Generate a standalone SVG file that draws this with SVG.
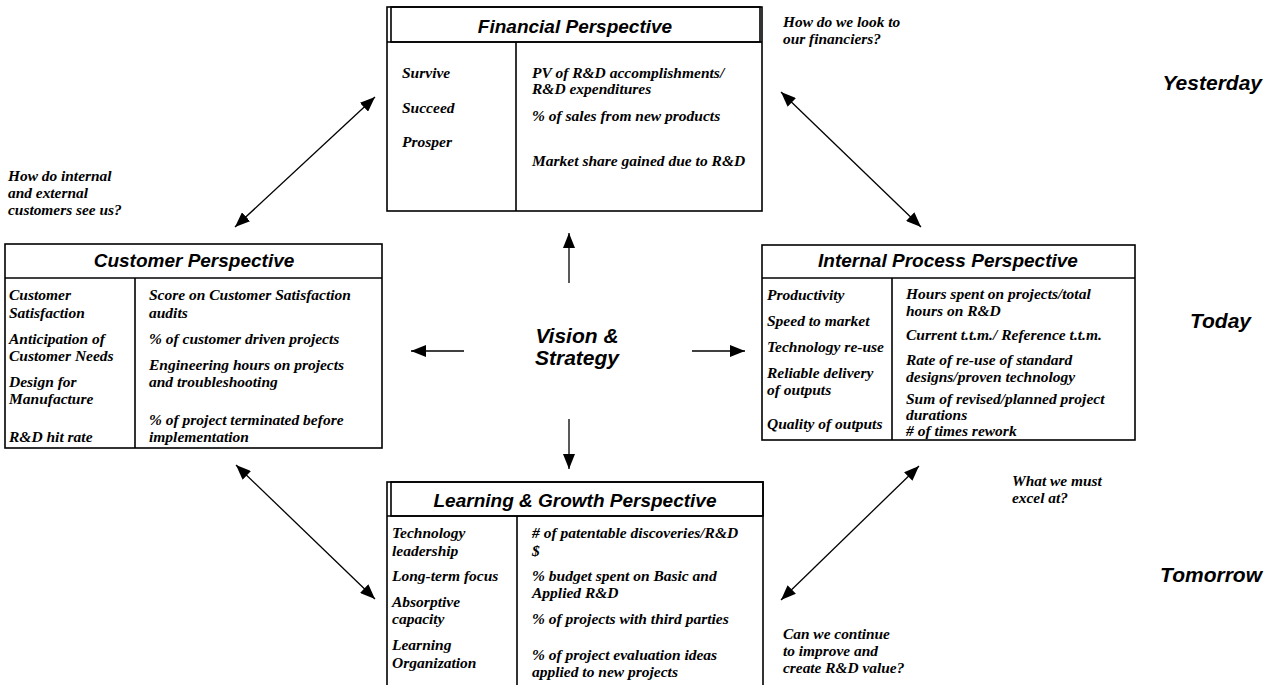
<svg xmlns="http://www.w3.org/2000/svg" width="1276" height="685" viewBox="0 0 1276 685">
<style>
.box{fill:#fff;stroke:#000;stroke-width:1.6}
.ln{stroke:#000;stroke-width:1.6;fill:none}
.hd{font-family:"Liberation Sans",Arial,sans-serif;font-weight:bold;font-style:italic;font-size:19px;text-anchor:middle}
.t{font-family:"Liberation Serif","Times New Roman",serif;font-weight:bold;font-style:italic;font-size:15.5px}
.q{font-family:"Liberation Serif","Times New Roman",serif;font-weight:bold;font-style:italic;font-size:15.4px}
.big{font-family:"Liberation Sans",Arial,sans-serif;font-weight:bold;font-style:italic;font-size:21px}
.arr{stroke:#000;stroke-width:1.3;fill:none}
</style>
<defs>
<marker id="ah" viewBox="0 0 15 12" refX="15" refY="6" markerWidth="15" markerHeight="12" markerUnits="userSpaceOnUse" orient="auto-start-reverse">
<path d="M0,0 L15,6 L0,12 z" fill="#000"/>
</marker>
</defs>
<rect width="1276" height="685" fill="#fff"/>

<g id="financial">
<rect class="box" x="387" y="7" width="375" height="204"/>
<rect class="ln" x="391" y="7" width="369" height="35"/>
<line class="ln" x1="387" y1="42" x2="762" y2="42"/>
<line class="ln" x1="516" y1="42" x2="516" y2="211"/>
<text class="hd" x="575" y="33">Financial Perspective</text>
<text class="t" x="402" y="78">Survive</text>
<text class="t" x="402" y="113">Succeed</text>
<text class="t" x="402" y="147">Prosper</text>
<text class="t" x="532" y="78">PV of R&amp;D accomplishments/</text>
<text class="t" x="532" y="94">R&amp;D expenditures</text>
<text class="t" x="532" y="121">% of sales from new products</text>
<text class="t" x="532" y="166">Market share gained due to R&amp;D</text>
</g>

<g id="customer">
<rect class="box" x="5" y="244" width="377" height="204"/>
<line class="ln" x1="5" y1="278" x2="382" y2="278"/>
<line class="ln" x1="135" y1="278" x2="135" y2="448"/>
<text class="hd" x="194" y="267">Customer Perspective</text>
<text class="t" x="9" y="300">Customer</text>
<text class="t" x="9" y="318">Satisfaction</text>
<text class="t" x="9" y="344">Anticipation of</text>
<text class="t" x="9" y="361">Customer Needs</text>
<text class="t" x="9" y="387">Design for</text>
<text class="t" x="9" y="404">Manufacture</text>
<text class="t" x="9" y="442">R&amp;D hit rate</text>
<text class="t" x="149" y="300">Score on Customer Satisfaction</text>
<text class="t" x="149" y="318">audits</text>
<text class="t" x="149" y="344">% of customer driven projects</text>
<text class="t" x="149" y="370">Engineering hours on projects</text>
<text class="t" x="149" y="387">and troubleshooting</text>
<text class="t" x="149" y="425">% of project terminated before</text>
<text class="t" x="149" y="442">implementation</text>
</g>

<g id="internal">
<rect class="box" x="762" y="245" width="373" height="195"/>
<line class="ln" x1="762" y1="278" x2="1135" y2="278"/>
<line class="ln" x1="892" y1="278" x2="892" y2="440"/>
<text class="hd" x="948" y="267">Internal Process Perspective</text>
<text class="t" x="767" y="300">Productivity</text>
<text class="t" x="767" y="326">Speed to market</text>
<text class="t" x="767" y="352">Technology re-use</text>
<text class="t" x="767" y="378">Reliable delivery</text>
<text class="t" x="767" y="395">of outputs</text>
<text class="t" x="767" y="429">Quality of outputs</text>
<text class="t" x="906" y="299">Hours spent on projects/total</text>
<text class="t" x="906" y="316">hours on R&amp;D</text>
<text class="t" x="906" y="340">Current t.t.m./ Reference t.t.m.</text>
<text class="t" x="906" y="365">Rate of re-use of standard</text>
<text class="t" x="906" y="382">designs/proven technology</text>
<text class="t" x="906" y="404">Sum of revised/planned project</text>
<text class="t" x="906" y="420">durations</text>
<text class="t" x="906" y="436"># of times rework</text>
</g>

<g id="learning">
<rect class="box" x="387" y="482" width="376" height="215"/>
<rect class="ln" x="391" y="482" width="372" height="34"/>
<line class="ln" x1="387" y1="516" x2="763" y2="516"/>
<line class="ln" x1="517" y1="516" x2="517" y2="697"/>
<text class="hd" x="575" y="507">Learning &amp; Growth Perspective</text>
<text class="t" x="392" y="538">Technology</text>
<text class="t" x="392" y="556">leadership</text>
<text class="t" x="392" y="581">Long-term focus</text>
<text class="t" x="392" y="607">Absorptive</text>
<text class="t" x="392" y="624">capacity</text>
<text class="t" x="392" y="650">Learning</text>
<text class="t" x="392" y="668">Organization</text>
<text class="t" x="532" y="538"># of patentable discoveries/R&amp;D</text>
<text class="t" x="532" y="556">$</text>
<text class="t" x="532" y="581">% budget spent on Basic and</text>
<text class="t" x="532" y="598">Applied R&amp;D</text>
<text class="t" x="532" y="624">% of projects with third parties</text>
<text class="t" x="532" y="660">% of project evaluation ideas</text>
<text class="t" x="532" y="677">applied to new projects</text>
</g>

<g id="vision">
<text class="big" x="577" y="343" text-anchor="middle">Vision &amp;</text>
<text class="big" x="577" y="365" text-anchor="middle">Strategy</text>
</g>

<g id="labels">
<text class="q" x="783" y="27">How do we look to</text>
<text class="q" x="783" y="44">our financiers?</text>
<text class="q" x="8" y="181">How do internal</text>
<text class="q" x="8" y="198">and external</text>
<text class="q" x="8" y="215">customers see us?</text>
<text class="q" x="1012" y="486">What we must</text>
<text class="q" x="1012" y="503">excel at?</text>
<text class="q" x="783" y="639">Can we continue</text>
<text class="q" x="783" y="656">to improve and</text>
<text class="q" x="783" y="673">create R&amp;D value?</text>
<text class="big" x="1262" y="90" text-anchor="end">Yesterday</text>
<text class="big" x="1251" y="328" text-anchor="end">Today</text>
<text class="big" x="1262" y="582" text-anchor="end">Tomorrow</text>
</g>

<g id="connectors">
<line class="arr" x1="569" y1="283" x2="569" y2="233" marker-end="url(#ah)"/>
<line class="arr" x1="464" y1="351" x2="411" y2="351" marker-end="url(#ah)"/>
<line class="arr" x1="692" y1="351" x2="745" y2="351" marker-end="url(#ah)"/>
<line class="arr" x1="569" y1="419" x2="569" y2="469" marker-end="url(#ah)"/>
<line class="arr" x1="375" y1="97" x2="235" y2="227" marker-start="url(#ah)" marker-end="url(#ah)"/>
<line class="arr" x1="781" y1="92" x2="921" y2="227" marker-start="url(#ah)" marker-end="url(#ah)"/>
<line class="arr" x1="236" y1="465" x2="375" y2="599" marker-start="url(#ah)" marker-end="url(#ah)"/>
<line class="arr" x1="919" y1="466" x2="781" y2="600" marker-start="url(#ah)" marker-end="url(#ah)"/>
</g>
</svg>
